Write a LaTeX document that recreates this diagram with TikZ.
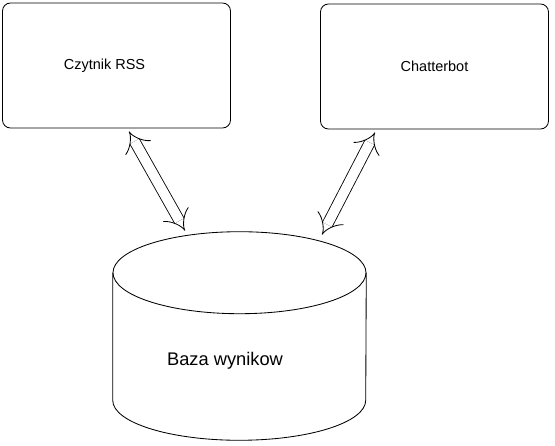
\documentclass[tikz,border=0pt]{standalone}
\usepackage{fontspec}
\setmainfont{Liberation Sans}
\usepackage{tikz}
\usetikzlibrary{arrows.meta, positioning}

\begin{document}
\begin{tikzpicture}[
    module/.style={draw, rounded corners=0.2cm, line width=0.6pt, minimum width=5.7cm, minimum height=3.125cm, font=\fontsize{10.3}{12}\selectfont},
    store/.style={minimum width=6.325cm, minimum height=5.2cm, inner sep=0pt},
    outline/.style={line width=0.6pt},
    link/.style={{Implies}-{Implies}, double, double distance=7pt, line width=0.6pt}
]
\useasboundingbox (0,0) rectangle (13.875,-11.15);

% Modules
\node[module] (rss) at (2.9125,-1.6375) {\hspace*{-0.6cm}Czytnik RSS};
\node[module] (bot) at (10.8625,-1.6625) {Chatterbot};

% Database (cylinder drawn on the node's anchors)
\node[store] (db) at (5.9875,-8.4) {};
\draw[outline] ([yshift=-1.025cm]db.north) ellipse (3.1625cm and 1.025cm);
\draw[outline] ([yshift=-1.025cm]db.north west) -- ([yshift=1cm]db.south west)
    arc (180:360:3.1625cm and 1cm) -- ([yshift=-1.025cm]db.north east);
\node[font=\fontsize{13}{15}\selectfont] (dbtext) at ([xshift=-0.3625cm, yshift=-0.625cm]db.center) {Baza wynikow};

% Links
\draw[link] ([xshift=0.3125cm, yshift=-0.075cm]rss.south) -- ([xshift=-1.3625cm, yshift=0.025cm]db.north);
\draw[link] ([xshift=-1.4875cm, yshift=-0.075cm]bot.south) -- ([xshift=2.0625cm, yshift=-0.075cm]db.north);

\end{tikzpicture}
\end{document}
